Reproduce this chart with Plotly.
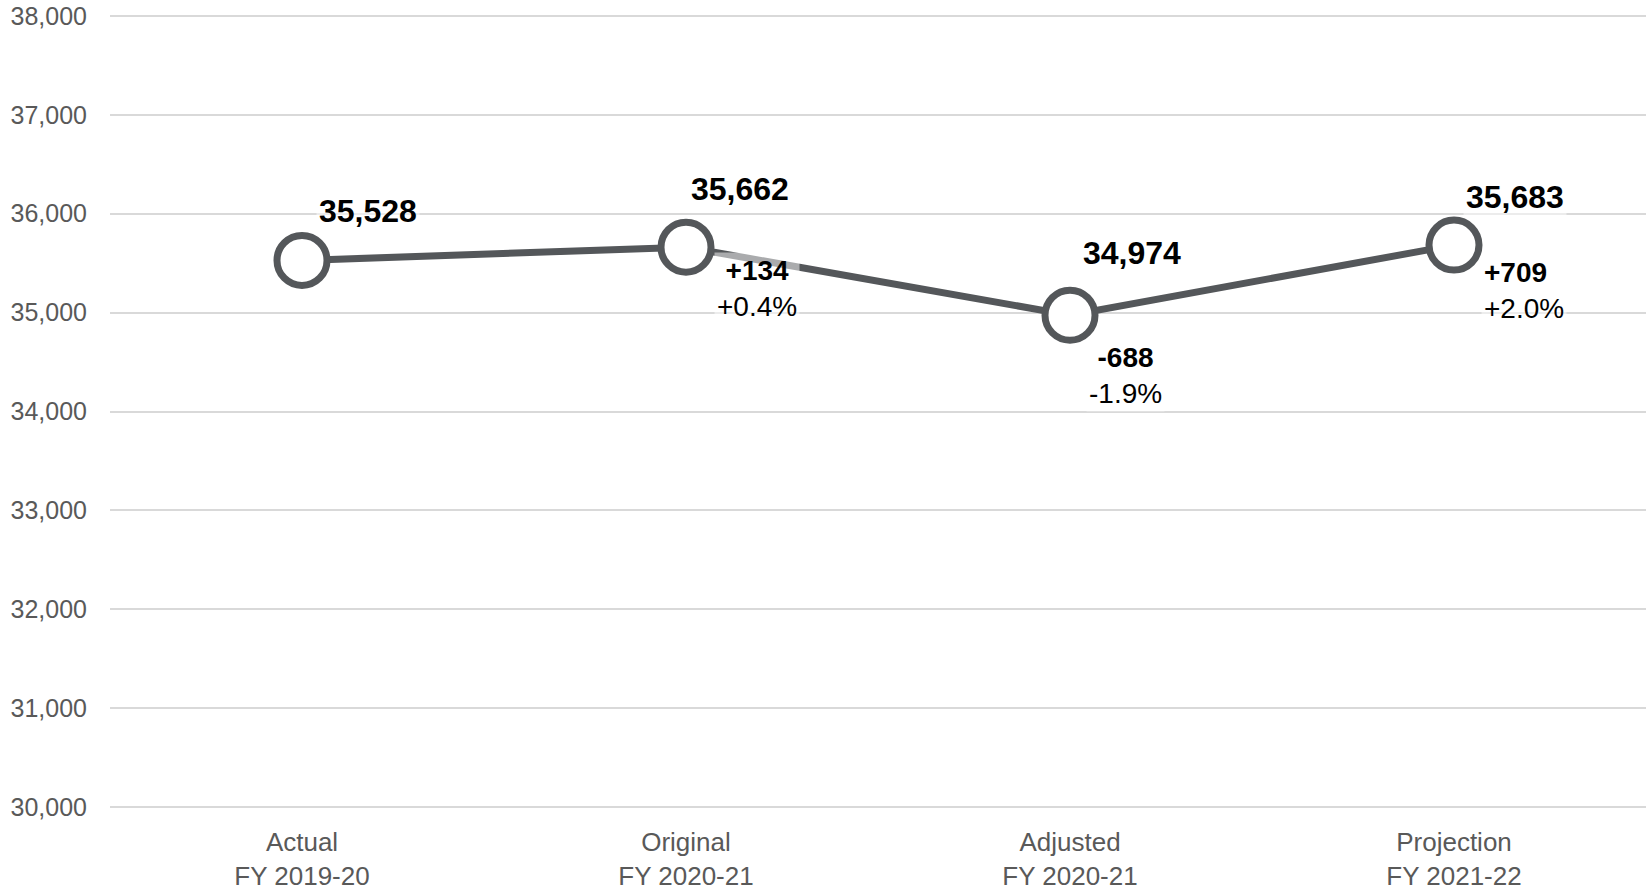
import plotly.graph_objects as go

categories = ["Actual<br>FY 2019-20", "Original<br>FY 2020-21", "Adjusted<br>FY 2020-21", "Projection<br>FY 2021-22"]
values = [35528, 35662, 34974, 35683]
changes = [None, "+134", "-688", "+709"]
pct_changes = [None, "+0.4%", "-1.9%", "+2.0%"]
y_ticks = [30000, 31000, 32000, 33000, 34000, 35000, 36000, 37000, 38000]

FONT = "Liberation Sans, Arial, sans-serif"
LINE = "#54575a"
BOX = "rgba(255,255,255,0.5)"

fig = go.Figure()
fig.add_trace(go.Scatter(
    x=categories, y=values, mode="lines+markers",
    line=dict(color=LINE, width=7),
    marker=dict(size=50, color="white", line=dict(color=LINE, width=7)),
    hoverinfo="skip", showlegend=False,
))

value_offsets = [(66, 49), (54, 58), (62, 62), (61, 48)]
change_offsets = [None, (71, -41), (55, -60), (70, -45)]
change_align = [None, "center", "center", "left"]

ann = []
for i, (c, v) in enumerate(zip(categories, values)):
    dx, dy = value_offsets[i]
    ann.append(dict(x=c, y=v, xref="x", yref="y", text=f"<b>{v:,}</b>", showarrow=False,
                    xshift=dx, yshift=dy, bgcolor=BOX, borderpad=2,
                    font=dict(family=FONT, size=32, color="black")))
    if changes[i]:
        dx, dy = change_offsets[i]
        ann.append(dict(x=c, y=v, xref="x", yref="y",
                        text=f"<b>{changes[i]}</b><br>{pct_changes[i]}", showarrow=False,
                        align=change_align[i], xshift=dx, yshift=dy, bgcolor=BOX, borderpad=2,
                        font=dict(family=FONT, size=28, color="black")))

fig.update_layout(
    width=1646, height=890,
    margin=dict(l=110, r=0, t=14, b=81, autoexpand=False),
    paper_bgcolor="white", plot_bgcolor="white",
    font=dict(family=FONT, color="#595959", size=26),
    annotations=ann,
    xaxis=dict(type="category", range=[-0.5, 3.5], showgrid=False, showline=False, zeroline=False,
               ticks="", tickfont=dict(size=26, color="#595959"), ticklabelstandoff=15,
               automargin=False),
    yaxis=dict(range=[29980, 38020], tickvals=y_ticks, tickformat=",", showgrid=True,
               gridcolor="#d9d9d9", gridwidth=2, zeroline=False, showline=False, ticks="",
               tickfont=dict(size=25, color="#595959"), ticklabelstandoff=22,
               ticklabeloverflow="allow", automargin=False),
)

fig.write_html("out.html", config={"displayModeBar": False},
               post_script="document.body.style.margin='0';document.body.style.overflow='hidden';")
